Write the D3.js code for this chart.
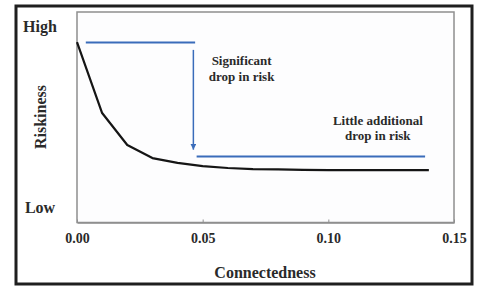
<!DOCTYPE html>
<html>
<head>
<meta charset="utf-8">
<script src="https://cdn.jsdelivr.net/npm/d3@7"></script>
<style>
  html, body { margin: 0; padding: 0; background: #fff; }
  svg { display: block; }
</style>
</head>
<body>
<svg id="chart" width="479" height="288"></svg>
<script>
// ---- data ----
const connectedness = [0, 0.01, 0.02, 0.03, 0.04, 0.05, 0.06, 0.07, 0.08, 0.09, 0.10, 0.11, 0.12, 0.13, 0.14];
const riskiness     = [0.857, 0.520, 0.368, 0.306, 0.283, 0.268, 0.259, 0.254, 0.252, 0.250, 0.249, 0.249, 0.249, 0.249, 0.249];
const xTicks = [0, 0.05, 0.10, 0.15];
const yLabels = ["High", "Low"];
const yLabelValues = [0.93, 0.07];
// annotation lines (data units)
const topLine    = [[0.0035, 0.855], [0.0470, 0.855]];
const arrowLine  = [[0.0463, 0.820], [0.0463, 0.346]];
const bottomLine = [[0.0476, 0.314], [0.1385, 0.313]];
const annot1 = ["Significant", "drop in risk"];
const annot2 = ["Little additional", "drop in risk"];

const FONT = "'Liberation Serif', 'Times New Roman', 'DejaVu Serif', serif";
const TXT = "#2a2a2a";

const svg = d3.select("#chart");
const m = { left: 77, right: 454, top: 12, bottom: 222.5 };

function styleText(sel, size) {
  return sel.style("font-family", FONT).style("font-weight", "bold")
    .style("font-size", size + "px").attr("fill", TXT);
}

// outer frame
svg.append("rect").attr("x", 16).attr("y", 6).attr("width", 456).attr("height", 278)
  .attr("fill", "#fff").attr("stroke", "#1f1f1f").attr("stroke-width", 3);

const x = d3.scaleLinear().domain([0, 0.15]).range([m.left, m.right]);
const y = d3.scaleLinear().domain([0, 1]).range([m.bottom, m.top]);

// plot frame
svg.append("rect").attr("x", m.left).attr("y", m.top)
  .attr("width", m.right - m.left).attr("height", m.bottom - m.top)
  .attr("fill", "#fdfdfe").attr("stroke", "#8f8f8f").attr("stroke-width", 1.5);

// x axis
const xAxis = d3.axisBottom(x).tickValues(xTicks).tickFormat(d3.format(".2f"))
  .tickSizeInner(-3).tickSizeOuter(0).tickPadding(11);
const gx = svg.append("g").attr("transform", `translate(0,${m.bottom})`).call(xAxis);
gx.attr("font-family", null).attr("font-size", null);
gx.select(".domain").attr("stroke", "#8f8f8f").attr("stroke-width", 1.5);
gx.selectAll(".tick line").attr("stroke", "#8f8f8f").attr("stroke-width", 1);
styleText(gx.selectAll(".tick text"), 14);

// axis titles
styleText(svg.append("text").attr("x", 265).attr("y", 278).attr("text-anchor", "middle")
  .text("Connectedness"), 16);
styleText(svg.append("text").attr("transform", "translate(46,117) rotate(-90)")
  .attr("text-anchor", "middle").text("Riskiness"), 16);

styleText(svg.selectAll(".ylab").data(yLabels).join("text").attr("class", "ylab")
  .attr("x", 40).attr("y", (d, i) => y(yLabelValues[i]) + 5)
  .attr("text-anchor", "middle").text(d => d), 16);

// curve
const pts = connectedness.map((c, i) => [c, riskiness[i]]);
const line = d3.line().x(d => x(d[0])).y(d => y(d[1]));
svg.append("path").datum(pts).attr("d", line)
  .attr("fill", "none").attr("stroke", "#151515").attr("stroke-width", 2.2)
  .attr("stroke-linejoin", "round");

// blue annotation
const blue = "#3a6cba";
svg.append("defs").append("marker").attr("id", "arr")
  .attr("viewBox", "0 0 10 10").attr("refX", 10).attr("refY", 5)
  .attr("markerWidth", 6).attr("markerHeight", 6).attr("markerUnits", "userSpaceOnUse")
  .attr("orient", "auto")
  .append("path").attr("d", "M0,0 L10,5 L0,10 z").attr("fill", blue);

[topLine, bottomLine].forEach(l => {
  svg.append("path").datum(l).attr("d", line).attr("fill", "none")
    .attr("stroke", blue).attr("stroke-width", 2);
});
svg.append("path").datum(arrowLine).attr("d", line).attr("fill", "none")
  .attr("stroke", blue).attr("stroke-width", 1.5).attr("marker-end", "url(#arr)");

// annotation text
styleText(svg.selectAll(".a1").data(annot1).join("text").attr("class", "a1")
  .attr("x", x(0.0655)).attr("y", (d, i) => 65 + i * 16)
  .attr("text-anchor", "middle").text(d => d), 13);
styleText(svg.selectAll(".a2").data(annot2).join("text").attr("class", "a2")
  .attr("x", x(0.1197)).attr("y", (d, i) => 125 + i * 15)
  .attr("text-anchor", "middle").text(d => d), 13);
</script>
</body>
</html>
